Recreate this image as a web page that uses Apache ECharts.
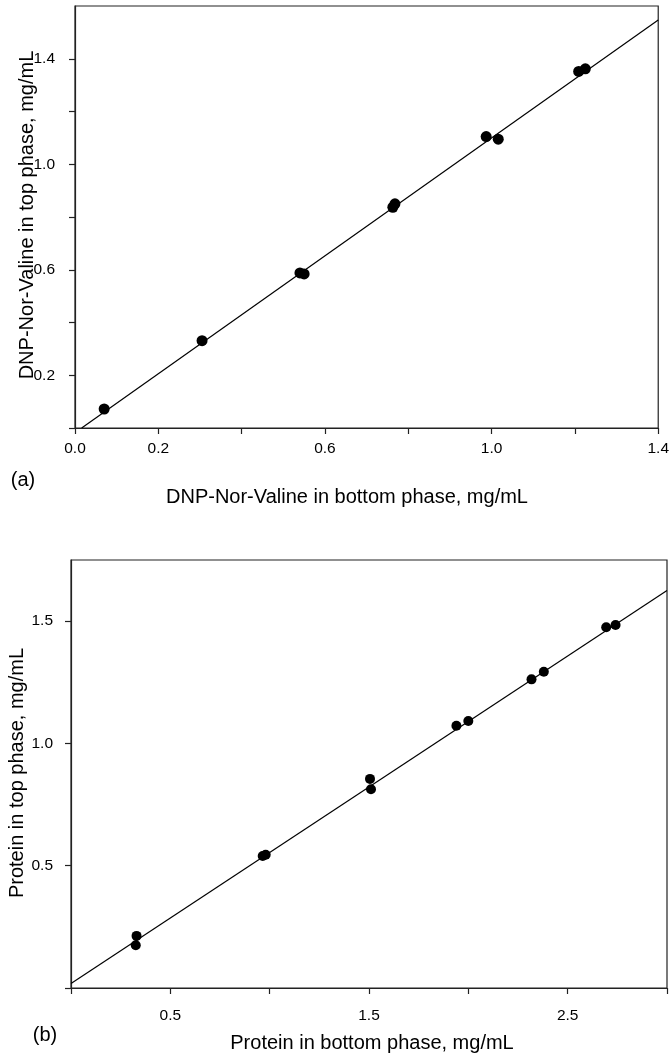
<!DOCTYPE html>
<html>
<head>
<meta charset="utf-8">
<script src="https://cdn.jsdelivr.net/npm/echarts@6/dist/echarts.min.js"></script>
<style>
  html, body { margin: 0; padding: 0; background: #fff; }
  #main { width: 672px; height: 1061px; }
</style>
</head>
<body>
<div id="main"></div>
<script>
// panel (a): DNP-Nor-Valine
const aBottom = [0.07, 0.305, 0.54, 0.55, 0.763, 0.768, 0.987, 1.016, 1.209, 1.225];
const aTop    = [0.072, 0.331, 0.588, 0.584, 0.837, 0.85, 1.105, 1.095, 1.352, 1.362];
const aFitX = [0.016, 1.4];
const aFitY = [0, 1.547];
const aXTicks = [0, 0.2, 0.4, 0.6, 0.8, 1.0, 1.2, 1.4];
const aXLabels = [0, 0.2, 0.6, 1.0, 1.4];
const aYTicks = [0, 0.2, 0.4, 0.6, 0.8, 1.0, 1.2, 1.4];
const aYLabels = [0.2, 0.6, 1.0, 1.4];

// panel (b): protein
const bBottom = [0.33, 0.326, 0.965, 0.98, 1.505, 1.51, 1.94, 2.0, 2.318, 2.38, 2.694, 2.741];
const bTop    = [0.213, 0.175, 0.540, 0.545, 0.855, 0.813, 1.072, 1.092, 1.262, 1.293, 1.475, 1.484];
const bFitX = [0, 3];
const bFitY = [0.018, 1.625];
const bXTicks = [0, 0.5, 1.0, 1.5, 2.0, 2.5, 3.0];
const bXLabels = [0.5, 1.5, 2.5];
const bYTicks = [0, 0.5, 1.0, 1.5];
const bYLabels = [0.5, 1.0, 1.5];

const FONT = "'Liberation Sans', Arial, sans-serif";
const zip = (xs, ys) => xs.map((x, i) => [x, ys[i]]);

function axis(gridIndex, min, max, ticks, labels, margin) {
  return {
    type: 'value', gridIndex, min, max,
    splitLine: { show: false },
    axisLine: { show: true, lineStyle: { color: '#222', width: 1.2 } },
    axisTick: { show: true, length: 6, customValues: ticks, lineStyle: { color: '#222', width: 1.2 } },
    axisLabel: {
      customValues: labels, margin,
      color: '#000', fontSize: 15.5, fontFamily: FONT,
      formatter: v => v.toFixed(1)
    }
  };
}

function label(text, x, y, rotate) {
  return {
    type: 'text', x, y, rotation: rotate ? Math.PI / 2 : 0,
    style: { text, x: 0, y: 0, align: 'center', verticalAlign: 'middle', font: '20px ' + FONT, fill: '#000' }
  };
}

const chart = echarts.init(document.getElementById('main'));
chart.setOption({
  animation: false,
  grid: [
    { left: 75, top: 6, width: 588, height: 422, show: true, borderColor: '#222', borderWidth: 1.2 },
    { left: 71, top: 560, width: 596, height: 428, show: true, borderColor: '#222', borderWidth: 1.2 }
  ],
  xAxis: [
    axis(0, 0, 1.4, aXTicks, aXLabels, 13),
    axis(1, 0, 3, bXTicks, bXLabels, 20)
  ],
  yAxis: [
    axis(0, 0, 1.6, aYTicks, aYLabels, 20),
    axis(1, 0, 1.75, bYTicks, bYLabels, 18)
  ],
  series: [
    {
      type: 'line', xAxisIndex: 0, yAxisIndex: 0, data: zip(aFitX, aFitY),
      symbol: 'none', lineStyle: { color: '#000', width: 1.2 }, silent: true
    },
    {
      type: 'scatter', xAxisIndex: 0, yAxisIndex: 0, data: zip(aBottom, aTop),
      symbolSize: 11, itemStyle: { color: '#000', opacity: 1 }
    },
    {
      type: 'line', xAxisIndex: 1, yAxisIndex: 1, data: zip(bFitX, bFitY),
      symbol: 'none', lineStyle: { color: '#000', width: 1.2 }, silent: true
    },
    {
      type: 'scatter', xAxisIndex: 1, yAxisIndex: 1, data: zip(bBottom, bTop),
      symbolSize: 10, itemStyle: { color: '#000', opacity: 1 }
    }
  ],
  graphic: [
    label('DNP-Nor-Valine in top phase, mg/mL', 27, 215, true),
    label('DNP-Nor-Valine in bottom phase, mg/mL', 347, 497),
    label('(a)', 23, 480),
    label('Protein in top phase, mg/mL', 17.5, 773, true),
    label('Protein in bottom phase, mg/mL', 372, 1043),
    label('(b)', 45, 1035)
  ]
});
</script>
</body>
</html>
